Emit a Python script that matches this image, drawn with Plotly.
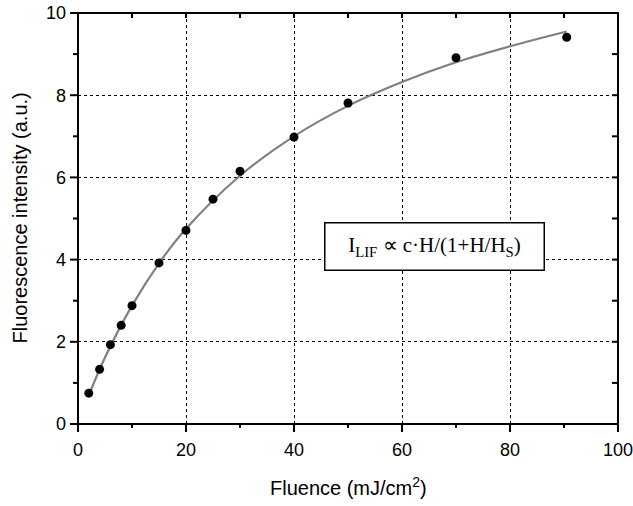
import plotly.graph_objects as go

# Measured data points
fluence = [2, 4, 6, 8, 10, 15, 20, 25, 30, 40, 50, 70, 90.5]
intensity = [0.75, 1.33, 1.93, 2.40, 2.88, 3.92, 4.71, 5.47, 6.15, 6.98, 7.81, 8.91, 9.41]

# Fitted curve
fit_x = [2, 5, 10, 15, 20, 30, 40, 50, 60, 70, 80, 90.5]
fit_y = [0.70, 1.62, 2.88, 3.91, 4.75, 6.04, 7.00, 7.74, 8.32, 8.80, 9.19, 9.55]

x_ticks = [0, 20, 40, 60, 80, 100]
x_minor = [10, 30, 50, 70, 90]
y_ticks = [0, 2, 4, 6, 8, 10]
y_minor = [1, 3, 5, 7, 9]

SANS = "Liberation Sans, Arial, sans-serif"
SERIF = "Liberation Serif, Times New Roman, serif"

W, H = 633, 506
ML, MR, MT, MB = 78, 15, 13, 82
XR = [0, 100]
YR = [0, 10]
PW, PH = W - ML - MR, H - MT - MB
pxu = PW / (XR[1] - XR[0])   # pixels per x unit
pyu = PH / (YR[1] - YR[0])   # pixels per y unit

fig = go.Figure()
fig.add_trace(go.Scatter(x=fit_x, y=fit_y, mode="lines",
                         line=dict(color="#808080", width=2.2, shape="spline", smoothing=1.0),
                         showlegend=False, hoverinfo="skip"))
fig.add_trace(go.Scatter(x=fluence, y=intensity, mode="markers",
                         marker=dict(color="black", size=9),
                         showlegend=False))


def segs_v(xvals, y0, y1):
    xs, ys = [], []
    for v in xvals:
        xs += [v, v, None]
        ys += [y0, y1, None]
    return xs, ys


def segs_h(yvals, x0, x1):
    xs, ys = [], []
    for v in yvals:
        xs += [x0, x1, None]
        ys += [v, v, None]
    return xs, ys


def frame_trace(xs, ys):
    return go.Scatter(x=xs, y=ys, mode="lines", xaxis="x3", yaxis="y3",
                      line=dict(color="black", width=2),
                      showlegend=False, hoverinfo="skip")


# axis frame and tick marks on a full-figure helper subplot that uses the same data scale
fig.add_trace(frame_trace([XR[0], XR[1], XR[1], XR[0], XR[0]],
                          [YR[0], YR[0], YR[1], YR[1], YR[0]]))
fig.add_trace(frame_trace(*segs_v(x_ticks, YR[0], YR[0] - 8 / pyu)))
fig.add_trace(frame_trace(*segs_v(x_minor, YR[0], YR[0] - 4 / pyu)))
fig.add_trace(frame_trace(*segs_h(y_ticks, XR[0], XR[0] - 8 / pxu)))
fig.add_trace(frame_trace(*segs_h(y_minor, XR[0], XR[0] - 5 / pxu)))
fig.add_trace(frame_trace(*segs_v(x_minor + x_ticks[1:-1], YR[1], YR[1] - 5 / pyu)))
fig.add_trace(frame_trace(*segs_h(y_minor + y_ticks[1:-1], XR[1], XR[1] - 6 / pxu)))

fig.update_layout(
    template="none",
    width=W, height=H,
    margin=dict(l=0, r=0, t=0, b=0),
    paper_bgcolor="white", plot_bgcolor="rgba(0,0,0,0)",
    font=dict(family=SANS, color="black", size=18),
    xaxis=dict(domain=[ML / W, (W - MR) / W], anchor="y",
               showline=False, zeroline=False,
               range=XR, tickmode="array", tickvals=x_ticks,
               ticks="", showgrid=True, gridcolor="black", gridwidth=1, griddash="dot",
               ticklabeloverflow="allow", ticklabelstandoff=13,
               tickfont=dict(size=18, family=SANS)),
    yaxis=dict(domain=[MB / H, (H - MT) / H], anchor="x",
               showline=False, zeroline=False,
               range=YR, tickmode="array", tickvals=y_ticks,
               ticks="", showgrid=True, gridcolor="black", gridwidth=1, griddash="dot",
               ticklabeloverflow="allow", ticklabelstandoff=11,
               tickfont=dict(size=18, family=SANS)),
    xaxis3=dict(domain=[0, 1], anchor="y3", visible=False,
                range=[XR[0] - ML / pxu, XR[1] + MR / pxu]),
    yaxis3=dict(domain=[0, 1], anchor="x3", visible=False,
                range=[YR[0] - MB / pyu, YR[1] + MT / pyu]),
)

# axis titles
fig.add_annotation(
    x=(ML + PW / 2) / W, y=(H - 486) / H, xref="paper", yref="paper",
    xanchor="center", yanchor="middle", showarrow=False,
    text="Fluence (mJ/cm<sup>2</sup>)", font=dict(size=20, family=SANS, color="black"),
)
fig.add_annotation(
    x=20 / W, y=(MB + PH / 2) / H, xref="paper", yref="paper",
    xanchor="center", yanchor="middle", showarrow=False, textangle=-90,
    text="Fluorescence intensity (a.u.)", font=dict(size=20, family=SANS, color="black"),
)

fig.add_annotation(
    x=66.1, y=4.31, xref="x", yref="y",
    text="I<sub>LIF</sub> \u221d c\u00b7H/(1+H/H<sub>S</sub>)",
    showarrow=False, font=dict(family=SERIF, size=21, color="black"),
    bgcolor="white", bordercolor="black", borderwidth=1.5, borderpad=4,
    width=210, height=38, align="center", valign="middle",
)

fig.write_html("out.html")
